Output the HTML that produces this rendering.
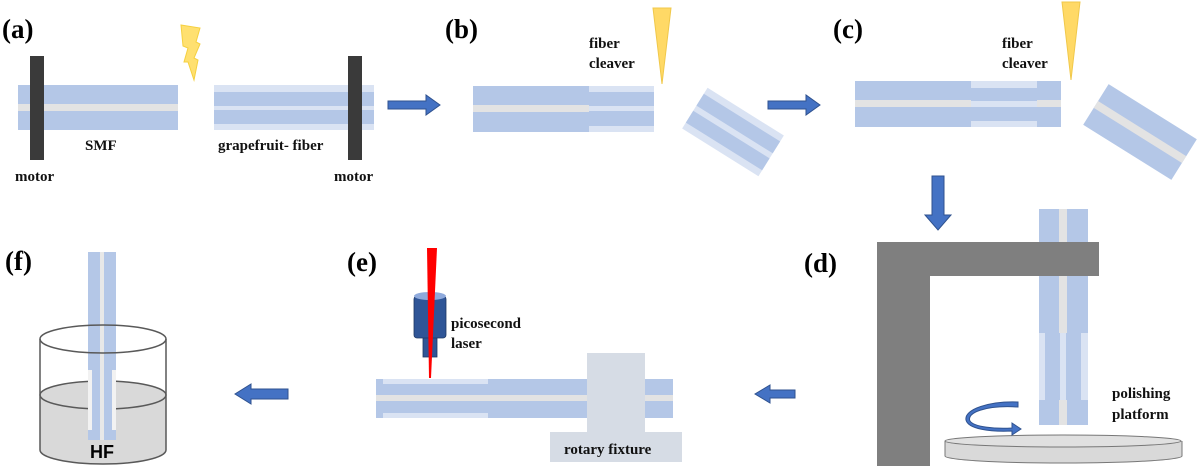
<!DOCTYPE html>
<html><head><meta charset="utf-8"><style>
html,body{margin:0;padding:0;background:#fff;width:1200px;height:473px;overflow:hidden}
svg{display:block}
.lab{font-family:"Liberation Serif",serif;font-weight:bold;font-size:27px;fill:#000}
.t{font-family:"Liberation Serif",serif;font-weight:bold;font-size:15px;fill:#111}
</style></head><body>
<svg width="1200" height="473" viewBox="0 0 1200 473" xmlns="http://www.w3.org/2000/svg">
<defs>
<g id="arrowR"><polygon points="0,3 38,3 38,-3 52,7 38,17 38,11 0,11" fill="#4472c4" stroke="#2f528f" stroke-width="1"/></g>
</defs>
<!-- (a) -->
<text class="lab" x="2" y="38">(a)</text>
<rect x="18" y="85" width="160" height="45" fill="#b4c7e7"/>
<rect x="18" y="104" width="160" height="7" fill="#e3e3e3"/>
<rect x="30" y="56" width="14" height="104" fill="#3a3a3a"/>
<polygon points="181,25 200,28 196,42 200,44 194,58 198,60 194,80 188,62 184,62 188,48 183,46" fill="#ffe070" stroke="#f5d040" stroke-width="1"/>
<rect x="214" y="85" width="160" height="45" fill="#dae3f3"/>
<rect x="214" y="92" width="160" height="14" fill="#b4c7e7"/>
<rect x="214" y="110" width="160" height="14" fill="#b4c7e7"/>
<rect x="348" y="56" width="14" height="104" fill="#3a3a3a"/>
<text class="t" x="85" y="150">SMF</text>
<text class="t" x="218" y="150">grapefruit- fiber</text>
<text class="t" x="15" y="181">motor</text>
<text class="t" x="334" y="181">motor</text>
<use href="#arrowR" x="388" y="98"/>
<!-- (b) -->
<text class="lab" x="445" y="38">(b)</text>
<text class="t" x="589" y="48">fiber</text>
<text class="t" x="589" y="68">cleaver</text>
<polygon points="653,8 671,8 662,84" fill="#ffd966" stroke="#f0c84a"/>
<rect x="473" y="86" width="116" height="46" fill="#b4c7e7"/>
<rect x="473" y="105" width="116" height="7" fill="#e3e3e3"/>
<rect x="589" y="86" width="65" height="46" fill="#dae3f3"/>
<rect x="589" y="92" width="65" height="14" fill="#b4c7e7"/>
<rect x="589" y="111" width="65" height="15" fill="#b4c7e7"/>
<g transform="translate(733,132) rotate(32)">
<rect x="-45" y="-24" width="90" height="48" fill="#dae3f3"/>
<rect x="-45" y="-17" width="90" height="14" fill="#b4c7e7"/>
<rect x="-45" y="3" width="90" height="14" fill="#b4c7e7"/>
</g>
<use href="#arrowR" x="768" y="98"/>
<!-- (c) -->
<text class="lab" x="833" y="38">(c)</text>
<text class="t" x="1002" y="48">fiber</text>
<text class="t" x="1002" y="68">cleaver</text>
<polygon points="1062,2 1080,2 1071,80" fill="#ffd966" stroke="#f0c84a"/>
<rect x="855" y="81" width="206" height="46" fill="#b4c7e7"/>
<rect x="855" y="100" width="116" height="7" fill="#e3e3e3"/>
<rect x="1037" y="100" width="24" height="7" fill="#e3e3e3"/>
<rect x="971" y="81" width="66" height="7" fill="#dae3f3"/>
<rect x="971" y="101" width="66" height="6" fill="#dae3f3"/>
<rect x="971" y="121" width="66" height="6" fill="#dae3f3"/>
<g transform="translate(1140,132) rotate(32)">
<rect x="-52" y="-24" width="104" height="48" fill="#b4c7e7"/>
<rect x="-52" y="-4" width="104" height="8" fill="#e3e3e3"/>
</g>
<polygon points="932,176 944,176 944,215 951,215 938,230 925,215 932,215" fill="#4472c4" stroke="#2f528f"/>
<!-- (d) -->
<text class="lab" x="804" y="272">(d)</text>
<rect x="1039" y="209" width="49" height="216" fill="#b4c7e7"/>
<rect x="1059" y="209" width="8" height="124" fill="#e3e3e3"/>
<rect x="1059" y="400" width="8" height="25" fill="#e3e3e3"/>
<rect x="1039" y="333" width="6" height="67" fill="#dae3f3"/>
<rect x="1081" y="333" width="7" height="67" fill="#dae3f3"/>
<rect x="1060" y="333" width="6" height="67" fill="#dae3f3"/>
<path d="M877,242 H1099 V276 H930 V466 H877 Z" fill="#7f7f7f"/>
<path d="M945,441 V456 A118,7 0 0 0 1182,456 V441" fill="#d9d9d9" stroke="#777" stroke-width="1"/>
<ellipse cx="1063" cy="441" rx="118" ry="6" fill="#e0e0e0" stroke="#777" stroke-width="1"/>
<path d="M1018,407 C985,405 966,413 970,421 C974,427 995,429 1012,428 L1012,423 L1021,429 L1012,435 L1012,431 C990,432 968,429 966,420 C964,409 990,401 1018,402 Z" fill="#4472c4" stroke="#2f528f" stroke-width="1"/>
<text class="t" x="1112" y="398">polishing</text>
<text class="t" x="1112" y="419">platform</text>
<!-- (e) -->
<text class="lab" x="347" y="271">(e)</text>
<rect x="376" y="379" width="297" height="39" fill="#b4c7e7"/>
<rect x="376" y="395" width="297" height="6" fill="#e3e3e3"/>
<rect x="383" y="379" width="105" height="5" fill="#dae3f3"/>
<rect x="383" y="413" width="105" height="5" fill="#dae3f3"/>
<rect x="587" y="353" width="58" height="80" fill="#d6dce5"/>
<rect x="550" y="432" width="132" height="30" fill="#d6dce5"/>
<text class="t" x="564" y="454">rotary fixture</text>
<rect x="423" y="336" width="14" height="21" fill="#2f5597" stroke="#1f3864" stroke-width="0.8"/>
<rect x="414" y="296" width="32" height="42" rx="3" fill="#2f5597" stroke="#1f3864" stroke-width="0.8"/>
<ellipse cx="430" cy="296" rx="16" ry="4" fill="#8faadc"/>
<polygon points="427,248 437,248 431,378 429,378" fill="#ff0000"/>
<text class="t" x="451" y="328">picosecond</text>
<text class="t" x="451" y="348">laser</text>
<polygon points="795,390 770,390 770,385 755,394 770,403 770,398 795,398" fill="#4472c4" stroke="#2f528f"/>
<!-- (f) -->
<text class="lab" x="5" y="270">(f)</text>
<polygon points="288,389 251,389 251,384 235,394 251,404 251,399 288,399" fill="#4472c4" stroke="#2f528f"/>
<path d="M40,395 V450 A63,14 0 0 0 166,450 V395 Z" fill="#d9d9d9"/>
<ellipse cx="103" cy="395" rx="63" ry="14" fill="#d9d9d9" stroke="#595959" stroke-width="1.5"/>
<rect x="88" y="252" width="28" height="188" fill="#b4c7e7"/>
<rect x="100" y="252" width="4" height="188" fill="#e8e8e8"/>
<rect x="88" y="370" width="4" height="60" fill="#f2f2f2"/>
<rect x="112" y="370" width="4" height="60" fill="#f2f2f2"/>
<path d="M40,339 V450 A63,14 0 0 0 166,450 V339" fill="none" stroke="#595959" stroke-width="1.5"/>
<ellipse cx="103" cy="339" rx="63" ry="14" fill="none" stroke="#595959" stroke-width="1.5"/>
<text x="90" y="458" style="font-family:'Liberation Sans',sans-serif;font-weight:bold;font-size:18px" fill="#000">HF</text>
</svg>
</body></html>
